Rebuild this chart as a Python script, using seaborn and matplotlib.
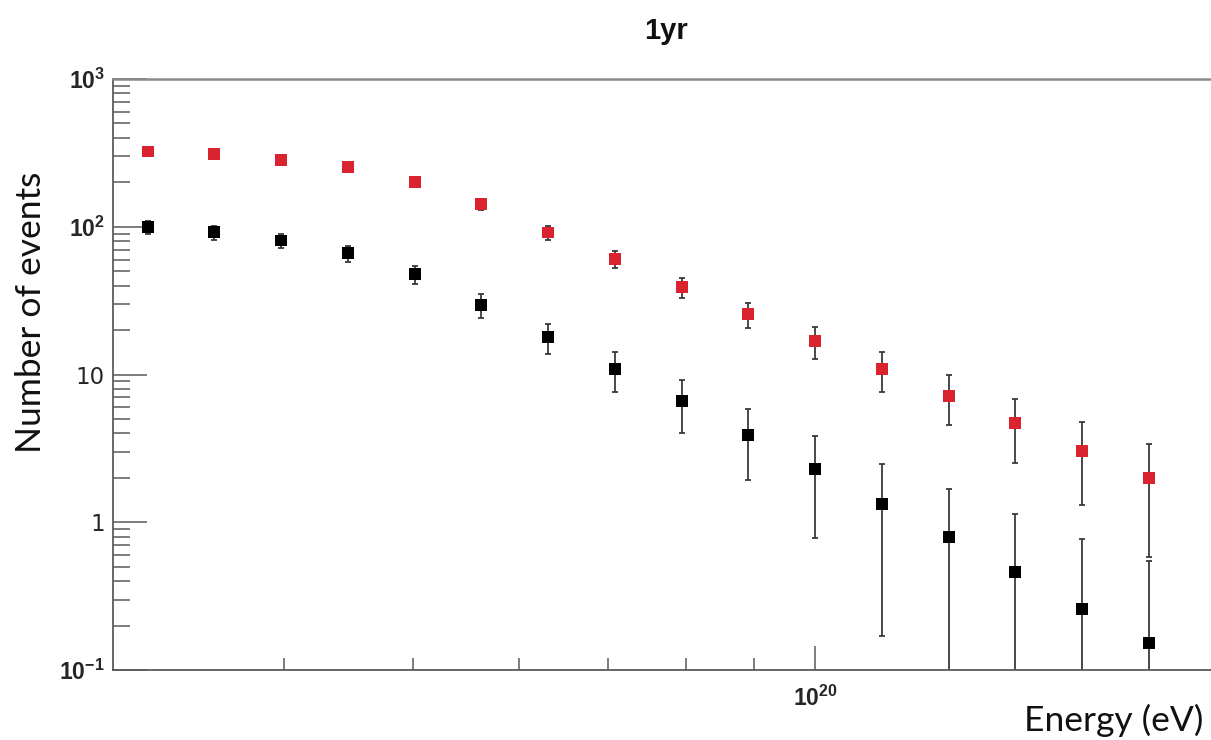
import numpy as np
import pandas as pd
import matplotlib
matplotlib.use("Agg")
import matplotlib.pyplot as plt
import seaborn as sns
from matplotlib.ticker import FixedLocator, FixedFormatter, NullFormatter

# Bin centres (log10 of energy in eV)
log_energy = [19.50, 19.55, 19.60, 19.65, 19.70, 19.75, 19.80, 19.85,
              19.90, 19.95, 20.00, 20.05, 20.10, 20.15, 20.20, 20.25]

# Expected event counts per bin
events_red = [323, 310, 285, 252, 202, 142, 91.4, 60.4,
              39.0, 25.6, 16.8, 10.9, 7.2, 4.7, 3.05, 1.99]
events_black = [99.5, 91.5, 80.7, 66.3, 47.7, 29.7, 17.9, 10.9,
                6.6, 3.9, 2.3, 1.32, 0.79, 0.46, 0.26, 0.153]

series_names = ["red", "black"]
series_colors = {"red": "#d9232e", "black": "#000000"}

y_major = [0.1, 1, 10, 100, 1000]
y_major_labels = [r"$10^{-1}$", "1", "10", r"$10^{2}$", r"$10^{3}$"]
x_major = [1e20]
x_major_labels = [r"$10^{20}$"]
x_minor = [4e19, 5e19, 6e19, 7e19, 8e19, 9e19]

title_text = "1yr"
xlabel_text = "Energy (eV)"
ylabel_text = "Number of events"

sns.set_theme(style="ticks")
plt.rcParams["mathtext.fontset"] = "custom"
plt.rcParams["mathtext.rm"] = "Liberation Sans:bold"
plt.rcParams["mathtext.bf"] = "Liberation Sans:bold"
plt.rcParams["mathtext.default"] = "rm"

energy = [10 ** v for v in log_energy]
df = pd.DataFrame({
    "energy": energy * 2,
    "events": events_red + events_black,
    "series": ["red"] * len(energy) + ["black"] * len(energy),
})

W, H = 1211, 740
fig = plt.figure(figsize=(W / 100, H / 100), dpi=100)
ax = fig.add_axes([113 / W, 70 / H, (W - 113) / W, (670 - 79) / H])
ax.set_xscale("log")
ax.set_yscale("log")

# Poisson error bars
for name in series_names:
    vals = np.array(df.loc[df.series == name, "events"])
    err = np.sqrt(vals)
    lower = np.minimum(err, vals - 1e-4)
    ax.errorbar(energy, vals, yerr=[lower, err], fmt="none",
                ecolor="#3a3a3a", elinewidth=1.3, capsize=2.3,
                capthick=1.3, zorder=2)

sns.scatterplot(data=df, x="energy", y="events", hue="series",
                palette=series_colors, marker="s", s=74, linewidth=0,
                legend=False, zorder=3, ax=ax)

ax.set_xlim(10 ** 19.474, 10 ** 20.2966)
ax.set_ylim(0.1, 1000)

ax.yaxis.set_major_locator(FixedLocator(y_major))
ax.yaxis.set_major_formatter(FixedFormatter(y_major_labels))
y_minor = [m * 10.0 ** e for e in range(-1, 3) for m in range(2, 10)]
ax.yaxis.set_minor_locator(FixedLocator(y_minor))
ax.yaxis.set_minor_formatter(NullFormatter())

ax.xaxis.set_major_locator(FixedLocator(x_major))
ax.xaxis.set_major_formatter(FixedFormatter(x_major_labels))
ax.xaxis.set_minor_locator(FixedLocator(x_minor))
ax.xaxis.set_minor_formatter(NullFormatter())

axis_col = "#5a5a5a"
ax.tick_params(axis="y", which="major", direction="in", length=24.5,
               width=1.1, color=axis_col, labelsize=16.5, pad=6)
ax.tick_params(axis="y", which="minor", direction="in", length=12.5,
               width=1.1, color=axis_col)
ax.tick_params(axis="x", which="major", direction="in", length=17,
               width=1.1, color=axis_col, labelsize=16.5, pad=11)
ax.tick_params(axis="x", which="minor", direction="in", length=8.6,
               width=1.1, color=axis_col)

for side in ["left", "bottom"]:
    ax.spines[side].set_color(axis_col)
    ax.spines[side].set_linewidth(1.3)
ax.spines["top"].set_color("#8a8a8a")
ax.spines["top"].set_linewidth(1.8)
ax.spines["right"].set_visible(False)

ax.set_xlabel("")
ax.set_ylabel("")
fig.text(1203 / W, 1 - 720 / H, xlabel_text, ha="right", va="center",
         fontsize=25.5, family="Lato", color="#111111")
fig.text(31 / W, 1 - 312 / H, ylabel_text, ha="center", va="center",
         rotation=90, fontsize=25.5, family="Lato", color="#111111")
fig.text(666 / W, 1 - 31 / H, title_text, ha="center", va="center",
         fontsize=21, family="Liberation Sans", fontweight="bold",
         color="#111111")

fig.savefig("out.png", dpi=100, facecolor="white")
